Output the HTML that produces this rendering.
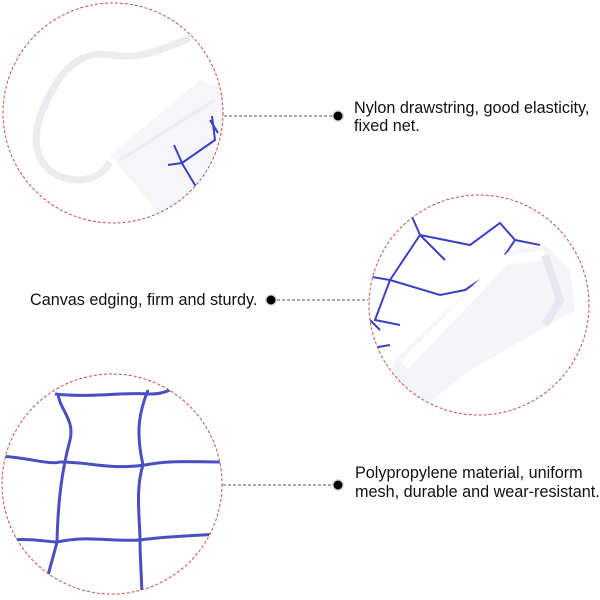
<!DOCTYPE html>
<html><head><style>
body{margin:0;background:#fff}
svg{display:block}
text{font-family:"Liberation Sans",sans-serif;font-size:16.2px;fill:#111}
</style></head><body>
<svg width="600" height="600" viewBox="0 0 600 600">
<defs>
<clipPath id="c1"><circle cx="113" cy="113" r="110"/></clipPath>
<clipPath id="c2"><circle cx="479" cy="305" r="110"/></clipPath>
<clipPath id="c3"><circle cx="112" cy="484" r="110"/></clipPath>
</defs>
<!-- circle 1 -->
<g clip-path="url(#c1)">
<path d="M190 38 C160 50 140 60 110 55 C80 50 60 70 45 105 C25 145 40 180 80 180 C100 178 105 170 110 162" fill="none" stroke="#ececf0" stroke-width="7"/>
<polygon points="110,155 200,80 225,90 225,200 160,215" fill="#f6f6f9"/>
<path d="M120 160 L215 100" stroke="#ececf2" stroke-width="3"/>
<path d="M212 116 L215 140 L182 163 L168 165 M174 145 L183 165 L198 190 M218 133 L210 120" fill="none" stroke="#3b3fc4" stroke-width="2"/>
</g>
<circle cx="113" cy="113" r="110" fill="none" stroke="#c0504d" stroke-width="1" stroke-dasharray="3,2"/>
<line x1="224" y1="116" x2="332" y2="116" stroke="#555" stroke-dasharray="3,2"/>
<circle cx="338" cy="116" r="6" fill="#ddd"/><circle cx="338" cy="116" r="4.5" fill="#000"/>
<text x="354" y="113">Nylon drawstring, good elasticity,</text>
<text x="354" y="131">fixed net.</text>
<!-- circle 2 -->
<g clip-path="url(#c2)">
<g fill="none" stroke="#3b3fc4" stroke-width="2">
<path d="M410 212 L420 235 L470 245 L500 223 L515 240 L495 270 M420 235 L390 280 L440 295 L465 290 L480 280 M360 275 L390 280 L375 320 L400 325 M370 320 L380 330 M420 235 L445 260 M500 223 L515 240 L540 245 M520 260 L520 280 M470 305 L495 305 L510 310 M505 305 L490 345 L440 360 M430 335 L450 345 M360 350 L390 345"/>
</g>
<path d="M395 360 L510 250 L545 245 L570 270 L575 310 L540 330 L470 370 L420 410 L380 420 Z" fill="#f4f4f9"/>
<path d="M405 365 L505 260 L545 255" fill="none" stroke="#fff" stroke-width="10"/>
<path d="M545 255 L560 300 L545 325" fill="none" stroke="#e8e8f2" stroke-width="8"/>
</g>
<circle cx="479" cy="305" r="110" fill="none" stroke="#c0504d" stroke-width="1" stroke-dasharray="3,2"/>
<line x1="277" y1="300" x2="368" y2="300" stroke="#555" stroke-dasharray="3,2"/>
<circle cx="271" cy="300" r="6" fill="#ddd"/><circle cx="271" cy="300" r="4.5" fill="#000"/>
<text x="30" y="305">Canvas edging, firm and sturdy.</text>
<!-- circle 3 -->
<g clip-path="url(#c3)" fill="none" stroke="#4a4ec4" stroke-width="3">
<path d="M55 394 C90 398 120 392 150 394 C160 394 165 392 170 390"/>
<path d="M0 456 C30 458 50 465 60 462 C90 462 110 470 145 465 C170 460 190 462 230 462"/>
<path d="M10 540 C30 538 50 542 57 542 C90 535 110 542 140 540 C170 536 190 536 220 534"/>
<path d="M58 394 C60 410 75 420 70 440 C62 470 58 500 57 542 C50 570 45 580 45 600"/>
<path d="M148 390 C140 410 135 430 143 465 C135 490 140 520 140 540 C140 560 142 580 142 600"/>
</g>
<circle cx="112" cy="484" r="110" fill="none" stroke="#c0504d" stroke-width="1" stroke-dasharray="3,2"/>
<line x1="223" y1="485" x2="332" y2="485" stroke="#555" stroke-dasharray="3,2"/>
<circle cx="338" cy="485" r="6" fill="#ddd"/><circle cx="338" cy="485" r="4.5" fill="#000"/>
<text x="355" y="478">Polypropylene material, uniform</text>
<text x="355" y="497">mesh, durable and wear-resistant.</text>
</svg>
</body></html>
